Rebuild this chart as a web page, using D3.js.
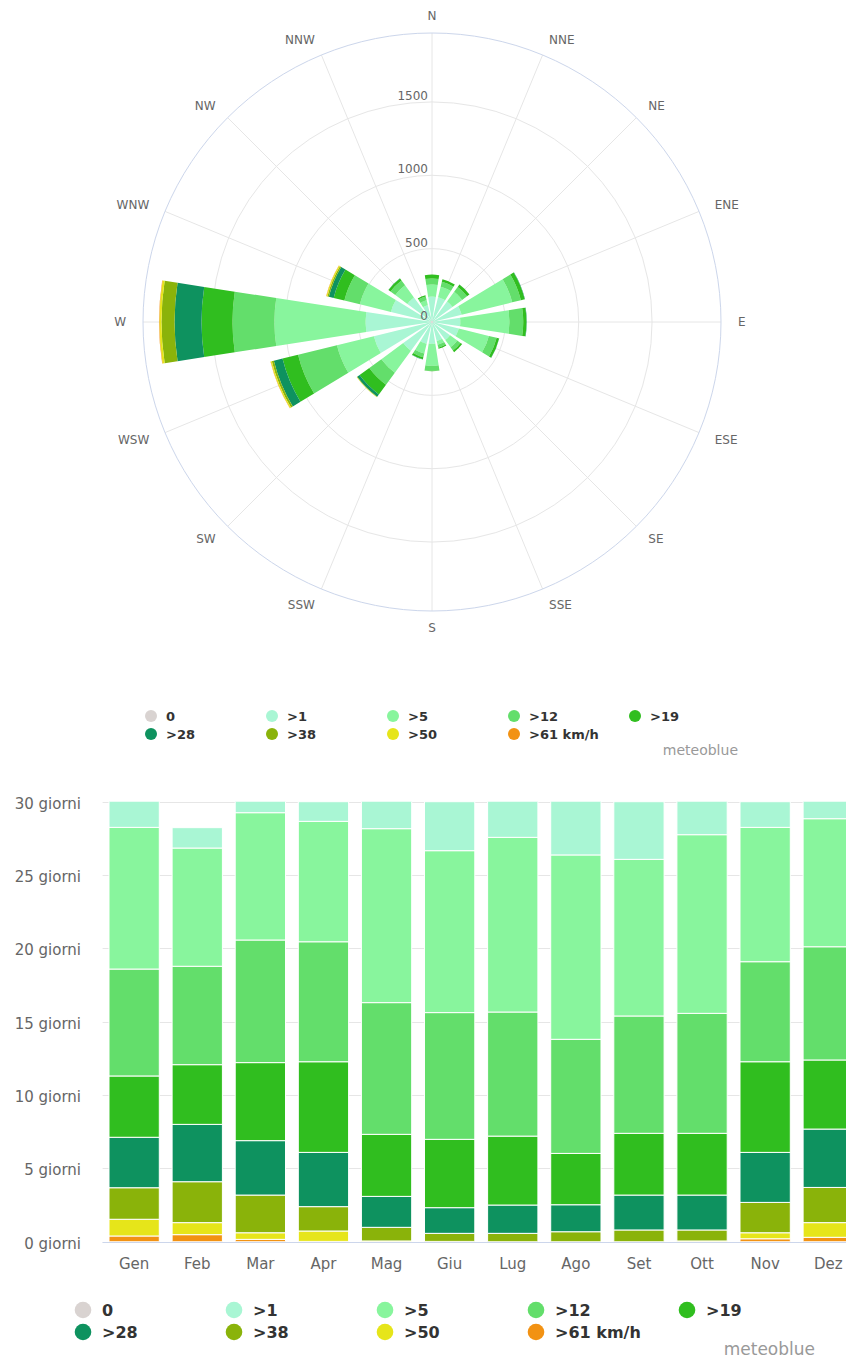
<!DOCTYPE html>
<html><head><meta charset="utf-8">
<script src="https://cdn.jsdelivr.net/npm/d3@7"></script>
<style>
html,body{margin:0;padding:0;background:#fff;}
svg{display:block;font-family:"DejaVu Sans",sans-serif;}
</style></head><body>
<svg id="chart" width="846" height="1360"></svg>
<script>
// ---------- shared categories ----------
const speedClasses = ["0", ">1", ">5", ">12", ">19", ">28", ">38", ">50", ">61 km/h"];
const classColors  = ["#d9d3d1", "#a9f6d4", "#88f59d", "#63de6b", "#30be1f", "#0e925f", "#8ab30a", "#e6e51a", "#f29213"];

// ---------- wind rose (hours per year) ----------
const directions = ["N","NNE","NE","ENE","E","ESE","SE","SSE","S","SSW","SW","WSW","W","WNW","NW","NNW"];
const roseCalm = [8, 8, 8, 8, 8, 8, 8, 8, 8, 8, 8, 8, 8, 8, 8, 8];
const rose1  = [165, 165, 165, 200, 185, 180, 145, 125, 140, 145, 235, 400, 445, 280, 200, 110];
const rose5  = [ 82,  75,  82, 355, 335, 211,  61,  27, 150,  68, 185, 259, 621, 218, 102,  34];
const rose12 = [ 41,  34,  41,  61,  94,  55,  27,  20,  34,  27, 102, 273, 286, 109,  41,  27];
const rose19 = [ 27,  18,  20,  27,  22,  17,  14,   8,   3,  14,  82, 109, 211,  75,  17,   9];
const rose28 = [  0,   0,   1,   2,   2,   1,   0,   0,   0,   1,  20,  61, 184,  34,   1,   0];
const rose38 = [  0,   0,   0,   0,   0,   0,   0,   0,   0,   0,   3,  14,  89,  10,   0,   0];
const rose50 = [  0,   0,   0,   0,   0,   0,   0,   0,   0,   0,   1,   8,  14,   7,   0,   0];
const rose61 = [  0,   0,   0,   0,   0,   0,   0,   0,   0,   0,   0,   2,   3,   2,   0,   0];
const roseTicks = [0, 500, 1000, 1500];
const roseMax = 1970;

// ---------- monthly bars (days) ----------
const months = ["Gen","Feb","Mar","Apr","Mag","Giu","Lug","Ago","Set","Ott","Nov","Dez"];
const monthCalm = [0, 0, 0, 0, 0, 0, 0, 0, 0, 0, 0, 0];
const month1  = [2.75, 1.39, 1.75, 1.34, 2.84, 3.34, 3.43, 4.63, 3.93, 3.25, 1.75, 2.16];
const month5  = [9.66, 8.06, 8.68, 8.21, 11.86, 11.04, 11.91, 12.57, 10.68, 12.18, 9.16, 8.73];
const month12 = [7.29, 6.71, 8.36, 8.18, 8.98, 8.64, 8.46, 7.78, 8.00, 8.18, 6.82, 7.72];
const month19 = [4.18, 4.07, 5.32, 6.18, 4.23, 4.66, 4.70, 3.50, 4.21, 4.21, 6.18, 4.71];
const month28 = [3.44, 3.91, 3.71, 3.70, 2.11, 1.75, 1.93, 1.84, 2.38, 2.38, 3.41, 3.98];
const month38 = [2.15, 2.79, 2.57, 1.66, 0.93, 0.55, 0.57, 0.68, 0.80, 0.75, 2.07, 2.40];
const month50 = [1.14, 0.82, 0.45, 0.71, 0.05, 0.02, 0.00, 0.00, 0.00, 0.05, 0.41, 1.00];
const month61 = [0.39, 0.48, 0.16, 0.02, 0.00, 0.00, 0.00, 0.00, 0.00, 0.00, 0.20, 0.30];
const dayTicks = [0, 5, 10, 15, 20, 25, 30];
const dayUnit = "giorni";
const brand = "meteoblue";

// ---------- build tables ----------
const roseSeries = [roseCalm, rose1, rose5, rose12, rose19, rose28, rose38, rose50, rose61];
const monthSeries = [monthCalm, month1, month5, month12, month19, month28, month38, month50, month61];
const roseRows = directions.map((d, i) => {
  const o = {dir: d};
  speedClasses.forEach((k, j) => o[k] = roseSeries[j][i]);
  return o;
});
const monthRows = months.map((m, i) => {
  const o = {month: m};
  speedClasses.forEach((k, j) => o[k] = monthSeries[j][i]);
  return o;
});
const color = d3.scaleOrdinal().domain(speedClasses).range(classColors);

const svg = d3.select("#chart");

// ================= WIND ROSE =================
const cx = 432, cy = 322, outerR = 289;
const r = d3.scaleLinear().domain([0, roseMax]).range([0, outerR]);
const ang = d3.scalePoint().domain(directions).range([0, 2 * Math.PI * 15 / 16]);
const halfW = (17.5 / 2) * Math.PI / 180;
const rose = svg.append("g").attr("transform", `translate(${cx},${cy})`);

// grid
rose.selectAll("line.spoke").data(directions).join("line")
  .attr("x1", 0).attr("y1", 0)
  .attr("x2", d => outerR * Math.sin(ang(d)))
  .attr("y2", d => -outerR * Math.cos(ang(d)))
  .attr("stroke", "#e6e6e6").attr("stroke-width", 1);
rose.selectAll("circle.ring").data(roseTicks.filter(t => t > 0)).join("circle")
  .attr("r", d => r(d)).attr("fill", "none").attr("stroke", "#e6e6e6").attr("stroke-width", 1);
rose.append("circle").attr("r", outerR).attr("fill", "none").attr("stroke", "#ccd6eb").attr("stroke-width", 1);

// stacked sectors
const roseStack = d3.stack().keys(speedClasses)(roseRows);
const arc = d3.arc();
rose.selectAll("g.layer").data(roseStack).join("g")
  .attr("fill", d => color(d.key))
  .selectAll("path").data(d => d.filter(s => s[1] > s[0])).join("path")
  .attr("d", s => arc({
    innerRadius: r(s[0]), outerRadius: r(s[1]),
    startAngle: ang(s.data.dir) - halfW, endAngle: ang(s.data.dir) + halfW
  }));

// ring labels
rose.selectAll("text.tick").data(roseTicks).join("text")
  .attr("x", -4).attr("y", d => -r(d) - 2)
  .attr("text-anchor", "end").attr("font-size", 12).attr("fill", "#666")
  .text(d => d);

// direction labels
const labR = 306;
rose.selectAll("text.dir").data(directions).join("text")
  .attr("x", d => labR * Math.sin(ang(d)))
  .attr("y", d => -labR * Math.cos(ang(d)) + 4.4)
  .attr("text-anchor", d => {
    const s = Math.sin(ang(d));
    return Math.abs(s) < 1e-6 ? "middle" : (s > 0 ? "start" : "end");
  })
  .attr("font-size", 12).attr("fill", "#666")
  .text(d => d);

// legend helper
function legend(x0, dx, y0, dy, rad, fs, textOff) {
  const g = svg.append("g");
  speedClasses.forEach((k, i) => {
    const col = i % 5, row = Math.floor(i / 5);
    const xx = x0 + col * dx, yy = y0 + row * dy;
    g.append("circle").attr("cx", xx).attr("cy", yy).attr("r", rad).attr("fill", color(k));
    g.append("text").attr("x", xx + textOff).attr("y", yy + fs * 0.36)
      .attr("font-size", fs).attr("font-weight", "bold").attr("fill", "#333").text(k);
  });
}
legend(151, 121, 716, 18, 6, 13, 15);
svg.append("text").attr("x", 738).attr("y", 755).attr("text-anchor", "end")
  .attr("font-size", 14).attr("fill", "#999").text(brand);

// ================= MONTHLY BARS =================
const plotL = 102.6, y0px = 1241.7, y30px = 801.7;
const x = d3.scaleBand().domain(months).range([plotL, plotL + 63.1 * 12]).paddingInner(0.203).paddingOuter(0.1015);
const y = d3.scaleLinear().domain([0, 30]).range([y0px, y30px]);

svg.append("defs").append("clipPath").attr("id", "plotclip")
  .append("rect").attr("x", plotL).attr("y", y30px).attr("width", 846 - plotL).attr("height", y0px - y30px);

// gridlines + labels
const yAxisG = svg.append("g");
yAxisG.selectAll("line").data(dayTicks).join("line")
  .attr("x1", plotL).attr("x2", 846)
  .attr("y1", d => Math.round(y(d)) + 0.5).attr("y2", d => Math.round(y(d)) + 0.5)
  .attr("stroke", "#e6e6e6").attr("stroke-width", 1);
yAxisG.selectAll("text").data(dayTicks).join("text")
  .attr("x", 81).attr("y", d => y(d) + 7)
  .attr("text-anchor", "end").attr("font-size", 15).attr("fill", "#666")
  .text(d => `${d} ${dayUnit}`);

const barStack = d3.stack().keys(speedClasses.slice().reverse())(monthRows);
svg.append("g").attr("clip-path", "url(#plotclip)")
  .selectAll("g").data(barStack).join("g")
  .attr("fill", d => color(d.key))
  .selectAll("rect").data(d => d.filter(s => s[1] > s[0])).join("rect")
  .attr("x", s => x(s.data.month))
  .attr("width", x.bandwidth())
  .attr("y", s => y(s[1]))
  .attr("height", s => y(s[0]) - y(s[1]))
  .attr("stroke", "#fff").attr("stroke-width", 1);

// x axis line
svg.append("line").attr("x1", plotL).attr("x2", 846)
  .attr("y1", Math.round(y0px) + 0.5).attr("y2", Math.round(y0px) + 0.5)
  .attr("stroke", "#ccd6eb").attr("stroke-width", 1);
svg.append("g").selectAll("text").data(months).join("text")
  .attr("x", d => x(d) + x.bandwidth() / 2).attr("y", 1268.8)
  .attr("text-anchor", "middle").attr("font-size", 15).attr("fill", "#666")
  .text(d => d);

legend(83, 151, 1310, 22, 8.3, 16, 19);
svg.append("text").attr("x", 815).attr("y", 1354.5).attr("text-anchor", "end")
  .attr("font-size", 17).attr("fill", "#999").text(brand);
</script>
</body></html>
